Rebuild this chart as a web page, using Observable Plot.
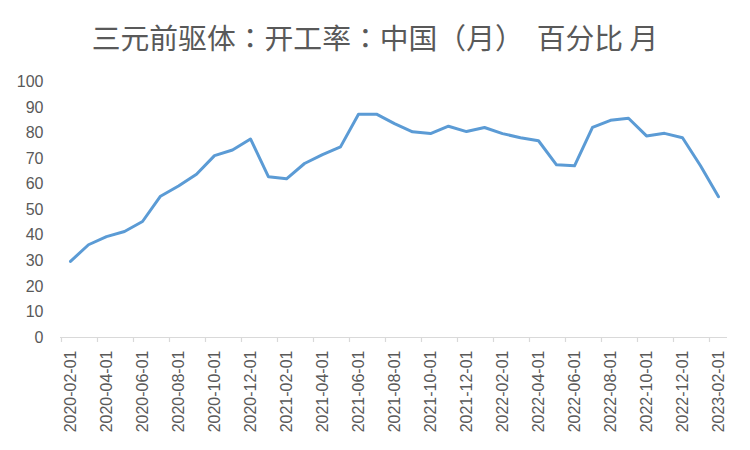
<!DOCTYPE html>
<html><head><meta charset="utf-8">
<script src="https://cdn.jsdelivr.net/npm/d3@7"></script>
<script src="https://cdn.jsdelivr.net/npm/@observablehq/plot@0.6"></script>
<style>
body{margin:0;background:#fff;}
#title{height:60px;box-sizing:border-box;padding-top:22px;text-align:center;font-family:"Noto Sans CJK SC";font-size:28.8px;color:#595959;line-height:30px;white-space:pre;}
#title .p{font-family:"Noto Sans CJK TC";}
</style></head><body>
<div id="title">三元前驱体<span class="p">：</span>开工率<span class="p">：</span>中国（月）  百分比 月</div>
<div id="chart"></div>
<script>
const dates = [
  "2020-02-01","2020-03-01","2020-04-01","2020-05-01","2020-06-01","2020-07-01","2020-08-01","2020-09-01","2020-10-01","2020-11-01","2020-12-01",
  "2021-01-01","2021-02-01","2021-03-01","2021-04-01","2021-05-01","2021-06-01","2021-07-01","2021-08-01","2021-09-01","2021-10-01","2021-11-01","2021-12-01",
  "2022-01-01","2022-02-01","2022-03-01","2022-04-01","2022-05-01","2022-06-01","2022-07-01","2022-08-01","2022-09-01","2022-10-01","2022-11-01","2022-12-01",
  "2023-01-01","2023-02-01"
];
const values = [
  29.8, 36.3, 39.5, 41.5, 45.4, 55.3, 59.3, 63.9, 71.2, 73.4, 77.7,
  62.9, 62.1, 68.1, 71.6, 74.6, 87.4, 87.4, 83.7, 80.5, 79.8, 82.7, 80.6,
  82.2, 79.8, 78.2, 77.0, 67.6, 67.2, 82.2, 85.0, 85.8, 78.9, 79.9, 78.2,
  67.2, 55.1
];
const tickLabels = [
  "2020-02-01","2020-04-01","2020-06-01","2020-08-01","2020-10-01","2020-12-01",
  "2021-02-01","2021-04-01","2021-06-01","2021-08-01","2021-10-01","2021-12-01",
  "2022-02-01","2022-04-01","2022-06-01","2022-08-01","2022-10-01","2022-12-01",
  "2023-02-01"
];
const yTicks = [0, 10, 20, 30, 40, 50, 60, 70, 80, 90, 100];

const data = dates.map((d, i) => ({date: d, value: values[i]}));
const W = 750, H = 390, ml = 60, mr = 23;
const step = (W - ml - mr) / dates.length;

const chart = Plot.plot({
  width: W, height: H,
  marginLeft: ml, marginRight: mr, marginTop: 21.5, marginBottom: 113,
  style: {fontFamily: "Liberation Sans", fontSize: "16px", color: "#595959", background: "#fff"},
  x: {type: "point", domain: dates, padding: 0.5},
  y: {domain: [0, 100]},
  marks: [
    Plot.axisY({ticks: yTicks, tickSize: 0, tickPadding: 17, label: null}),
    Plot.ruleY([0], {stroke: "#d9d9d9", strokeWidth: 1.2}),
    Plot.axisX({ticks: tickLabels, tickSize: 5, text: null, dx: -step / 2, stroke: "#d9d9d9", strokeWidth: 1.2, label: null}),
    Plot.axisX({ticks: tickLabels, tickSize: 0, tickRotate: -90, tickPadding: 13, label: null}),
    Plot.line(data, {x: "date", y: "value", stroke: "#5b9bd5", strokeWidth: 3, strokeLinejoin: "round", strokeLinecap: "round"})
  ]
});
document.getElementById("chart").appendChild(chart);
</script>
</body></html>
